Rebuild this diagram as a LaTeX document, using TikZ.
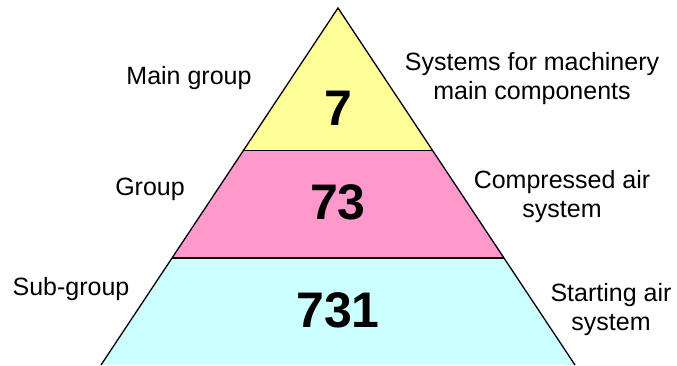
\documentclass[tikz,border=0pt]{standalone}
\usepackage{fontspec}
\setmainfont{Liberation Sans}
\usetikzlibrary{calc}

\definecolor{topband}{HTML}{FFFF99}
\definecolor{midband}{HTML}{FF99CC}
\definecolor{lowband}{HTML}{CCFFFF}

\tikzset{
  sidelabel/.style={font=\fontsize{25}{29}\selectfont, align=center, anchor=base, inner sep=0pt},
  codelabel/.style={font=\fontsize{50}{50}\selectfont\bfseries, anchor=base, inner sep=0pt}
}

\begin{document}
\begin{tikzpicture}[x=1pt, y=-1pt, line width=1.3pt]
        \useasboundingbox (0,0) rectangle (677,365);
        % Ecken der Pyramide
        \coordinate (apex) at (338,8);
        \coordinate (bl) at (101,365);
        \coordinate (br) at (575,365);
        \coordinate (ml) at ($(apex)!0.4!(bl)$);
        \coordinate (mr) at ($(apex)!0.4!(br)$);
        \coordinate (ll) at ($(apex)!0.7!(bl)$);
        \coordinate (lr) at ($(apex)!0.7!(br)$);
        % Flaechen
        \fill[topband] (apex) -- (ml) -- (mr) -- cycle;
        \fill[midband] (ml) -- (ll) -- (lr) -- (mr) -- cycle;
        \fill[lowband] (ll) -- (bl) -- (br) -- (lr) -- cycle;
        % Linien
        \draw (bl) -- (apex) -- (br);
        \draw (ml) -- (mr);
        \draw (ll) -- (lr);
        % Ziffern
        \node[codelabel] (main) at (338,125) {7};
        \node[codelabel] (grp) at (338,219) {73};
        \node[codelabel] (sub) at (338,327) {731};
        % Links
        \node[sidelabel] (lmain) at (189,84) {Main group};
        \node[sidelabel] (lgrp) at (150,195) {Group};
        \node[sidelabel] (lsub) at (71,295) {Sub-group};
        % Rechts (base = letzte Zeile)
        \node[sidelabel] (rmain) at (532,99) {Systems for machinery\\main components};
        \node[sidelabel] (rgrp) at (562,217) {Compressed air\\system};
        \node[sidelabel] (rsub) at (611,330) {Starting air\\system};
\end{tikzpicture}
\end{document}
